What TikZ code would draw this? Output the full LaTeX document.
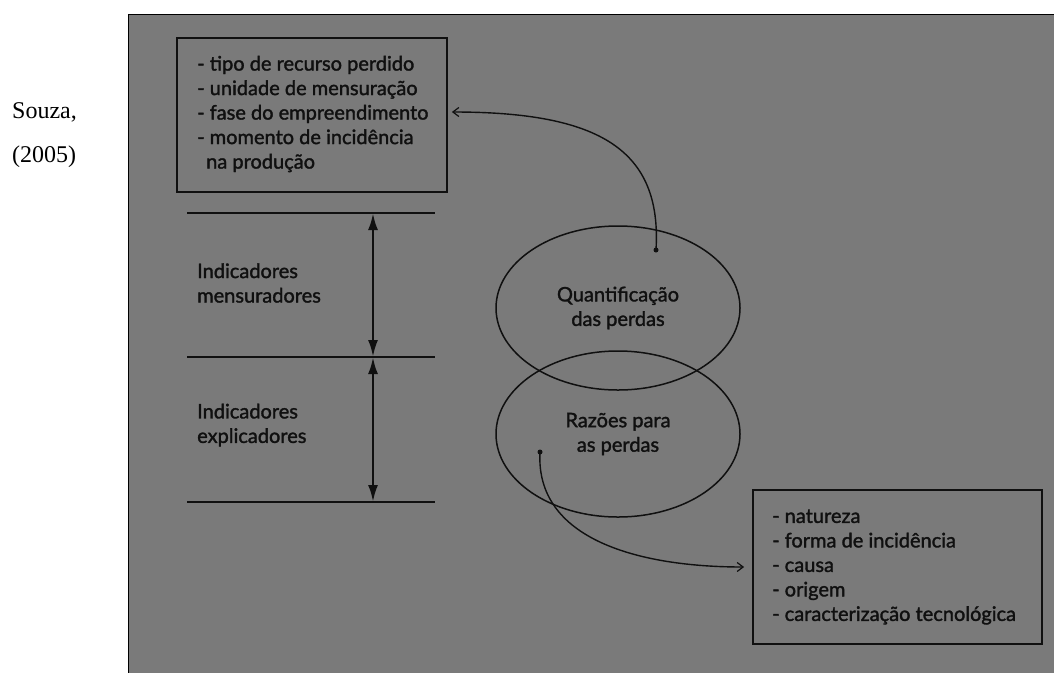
\documentclass[tikz,border=0pt]{standalone}
\usepackage{fontspec}
\setmainfont{Liberation Serif}
\newfontfamily\diag[FakeBold=1.6]{Lato}
\usetikzlibrary{arrows.meta,shapes.geometric}
\definecolor{bggray}{HTML}{7A7A7A}
\definecolor{ink}{HTML}{101010}
\tikzset{
  lbl/.style={font=\diag\fontsize{20}{24.5}\selectfont, text=ink, align=left, inner sep=0pt},
  frame/.style={draw=ink, line width=1.8pt, inner sep=0pt},
  oval/.style={ellipse, draw=ink, line width=1.5pt, inner sep=0pt, minimum width=244pt, font=\diag\fontsize{20}{24.5}\selectfont, text=ink, align=center},
  rule/.style={draw=ink, line width=1.6pt},
  dimarrow/.style={draw=ink, line width=2.6pt, {Latex[length=17pt,width=10pt]}-{Latex[length=17pt,width=10pt]}},
  link/.style={draw=ink, line width=1.4pt},
  dot/.style={circle, fill=ink, inner sep=0pt, minimum size=5pt},
  cite/.style={font=\fontsize{24}{28}\selectfont, text=black, inner sep=0pt, anchor=west}
}
\begin{document}
\begin{tikzpicture}[x=1pt,y=-1pt]
\useasboundingbox (0,0) rectangle (1054,673);
\fill[white] (0,0) rectangle (1054,673);
\fill[bggray] (128,14) rectangle (1054,673);
\draw[black, line width=1pt] (128,14) -- (128,673);
\draw[black, line width=0.8pt] (128,14) -- (1054,14);

\node[cite] (souza) at (12,112) {Souza,};
\node[cite] (year) at (12,157) {(2005)};

\node[frame, minimum width=270pt, minimum height=154pt] (topbox) at (312,115) {};
\node[lbl, anchor=west] (toptext) at (197,114)
 {- tipo de recurso perdido\\- unidade de mensuração\\- fase do empreendimento\\- momento de incidência\\\hspace*{0.45em}na produção};

\node[frame, minimum width=289pt, minimum height=154pt] (botbox) at (897.5,567) {};
\node[lbl, anchor=west] (bottext) at (772,567)
 {- natureza\\- forma de incidência\\- causa\\- origem\\- caracterização tecnológica};

\coordinate (h1l) at (187,213); \coordinate (h1r) at (435,213);
\coordinate (h2l) at (187,357); \coordinate (h2r) at (435,357);
\coordinate (h3l) at (187,502); \coordinate (h3r) at (435,502);
\draw[rule] (h1l) -- (h1r);
\draw[rule] (h2l) -- (h2r);
\draw[rule] (h3l) -- (h3r);
\coordinate (a1) at (373,213); \coordinate (a2) at (373,357); \coordinate (a3) at (373,502);
\draw[dimarrow] (a1) -- (a2);
\draw[dimarrow] (a2) -- (a3);

\node[lbl, anchor=west] (mens) at (197,283) {Indicadores\\mensuradores};
\node[lbl, anchor=west] (expl) at (197,425) {Indicadores\\explicadores};

\node[oval, minimum height=164pt] (quant) at (618,308) {Quantificação\\das perdas};
\node[oval, minimum height=166pt] (raz) at (618,434) {Razões para\\as perdas};

\node[dot] (d1) at (656,250) {};
\node[dot] (d2) at (540,452) {};
\draw[link, -{Straight Barb[length=6pt,width=9pt,line width=1.2pt]}] (d1.center) .. controls (662,150) and (600,112) .. ([xshift=4pt,yshift=3pt]topbox.east);
\draw[link, -{Straight Barb[length=6pt,width=9pt,line width=1.2pt]}] (d2.center) .. controls (535,540) and (640,567) .. ([xshift=-8pt]botbox.west);
\end{tikzpicture}
\end{document}
